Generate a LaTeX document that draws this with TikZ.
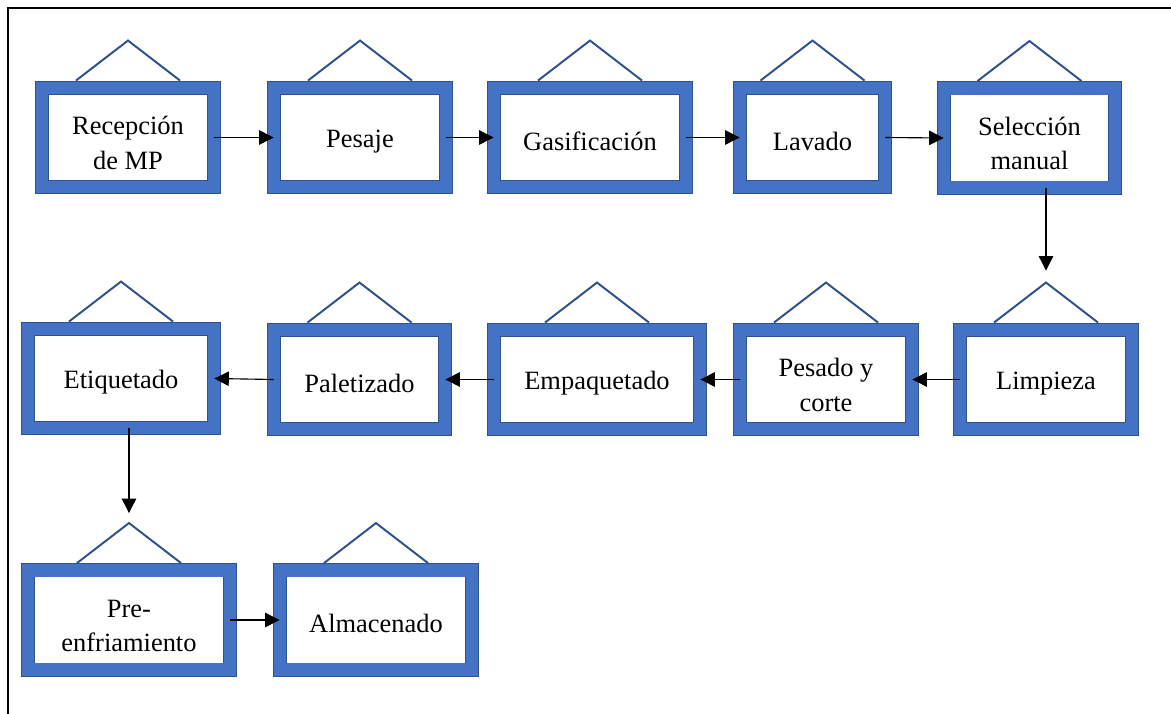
\documentclass[tikz,border=0pt]{standalone}
\usepackage{fontspec}
\setmainfont{Liberation Serif}
\usepackage{tikz}
\usetikzlibrary{arrows.meta}

\definecolor{frameblue}{HTML}{4472C4}
\definecolor{edgeblue}{HTML}{2F528F}
\newcommand{\topgap}{\rule{0pt}{21pt}}
\newcommand{\onegap}{\rule{0pt}{18pt}}

\begin{document}
\begin{tikzpicture}[x=0.025cm,y=-0.025cm,
  pbox/.style={draw=edgeblue,line width=0.6pt,double=frameblue,double distance=0.308cm,
    fill=white,align=center,inner sep=0pt,minimum width={(#1-14)*0.025cm},minimum height=2.475cm,
    font=\fontsize{18.8}{24.5}\selectfont},
  roof/.style={edgeblue,line width=1.4pt},
  flow/.style={black,line width=0.8pt,-{Triangle[length=0.36cm,width=0.36cm]}}]

\useasboundingbox (0,0) rectangle (1171,714);
\draw[line width=1.8pt] (8,714) -- (8,8) -- (1171,8);

% fila 1
\node[pbox=186] (recep) at (128,137.5) {\topgap Recepción\\de MP};
\node[pbox=186] (pesaje) at (360,137.5) {\onegap Pesaje};
\node[pbox=206] (gasif) at (590,137.5) {\onegap Gasificación};
\node[pbox=159] (lavado) at (812.5,137.5) {\onegap Lavado};
\node[pbox=185] (selec) at (1029.5,138) {\topgap Selección\\manual};

% fila 2
\node[pbox=186] (limp) at (1046,379.5) {\onegap Limpieza};
\node[pbox=186] (pesado) at (826,379.5) {\topgap Pesado y\\corte};
\node[pbox=220] (empaq) at (597,379.5) {\onegap Empaquetado};
\node[pbox=185] (palet) at (359.5,379.5) {\onegap Paletizado};
\node[pbox=200] (etiq) at (121,378.5) {\onegap Etiquetado};

% fila 3
\node[pbox=216] (pre) at (129,620) {\topgap Pre-\\enfriamiento};
\node[pbox=206] (alm) at (376,620) {\onegap Almacenado};

\foreach \n in {recep,pesaje,gasif,lavado,selec,limp,pesado,empaq,palet,etiq,pre,alm}{
  \coordinate (\n-top) at ([yshift=1.175cm]\n.north);
  \draw[roof] ([xshift=-1.3cm,yshift=0.175cm]\n.north) -- (\n-top) -- ([xshift=1.3cm,yshift=0.175cm]\n.north);
}

\draw[flow] (recep.east) -- (pesaje.west);
\draw[flow] (pesaje.east) -- (gasif.west);
\draw[flow] (gasif.east) -- (lavado.west);
\draw[flow] (lavado.east) -- (selec.west);
\draw[flow] (selec.south -| limp-top) -- ([yshift=0.3cm]limp-top);
\draw[flow] (limp.west) -- (pesado.east);
\draw[flow] (pesado.west) -- (empaq.east);
\draw[flow] (empaq.west) -- (palet.east);
\draw[flow] (palet.west) -- (etiq.east);
\draw[flow] (etiq.south -| pre-top) -- ([yshift=0.25cm]pre-top);
\draw[flow] (pre.east) -- (alm.west);
\end{tikzpicture}
\end{document}
